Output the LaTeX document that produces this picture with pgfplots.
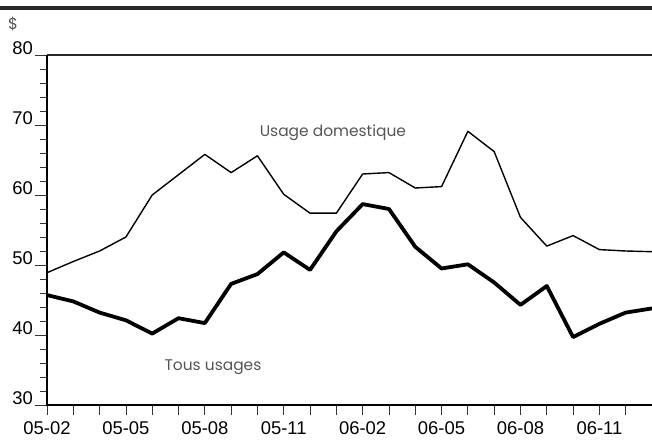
\documentclass[border=0pt]{standalone}
\usepackage{fontspec}
\usepackage{pgfplots}
\pgfplotsset{compat=1.18}
\setmainfont{Liberation Sans}
\newfontfamily\annot{Poppins}
\definecolor{annotgray}{RGB}{85,85,85}
\begin{document}
\begin{tikzpicture}
\path[use as bounding box] (0,0) rectangle (652bp,440bp);
\fill[black!85] (0,430bp) rectangle (652bp,434bp);
\node[anchor=center, text=annotgray, font=\annot\fontsize{16}{18}\selectfont] at (13bp,416bp) {\$};
\begin{axis}[
  at={(47bp,35bp)}, anchor=south west,
  scale only axis, width=605bp, height=350bp,
  xmin=0, xmax=23, ymin=30, ymax=80,
  clip=false,
  axis line style={draw=none},
  tick pos=left, tick align=outside,
  xtick={0,...,22},
  xticklabels={05-02,,,05-05,,,05-08,,,05-11,,,06-02,,,06-05,,,06-08,,,06-11,},
  ytick={30,40,...,80},
  minor y tick num=4,
  major tick length=12bp, minor tick length=7bp,
  xtick style={/pgfplots/major tick length=10bp, line width=0.8bp, black!80},
  ytick style={line width=0.8bp, black!80},
  minor y tick style={line width=0.8bp, black!80},
  tick label style={font=\fontsize{18.5}{20}\selectfont},
  /pgf/number format/assume math mode=true,
  yticklabel style={anchor=base east, inner sep=0pt, xshift=-2bp},
  xticklabel style={anchor=base, inner sep=0pt, yshift=-17bp},
]
\addplot[black, line width=1.4bp, line join=round] coordinates {
(0,48.9) (1,50.5) (2,52.0) (3,54.0) (4,60.0) (5,62.9) (6,65.8) (7,63.2)
(8,65.6) (9,60.1) (10,57.4) (11,57.4) (12,63.0) (13,63.2) (14,61.0) (15,61.2)
(16,69.1) (17,66.2) (18,56.8) (19,52.7) (20,54.2) (21,52.2) (22,52.0) (23,51.9)
};
\addplot[black, line width=3.8bp, line join=round] coordinates {
(0,45.7) (1,44.8) (2,43.2) (3,42.1) (4,40.2) (5,42.4) (6,41.7) (7,47.3)
(8,48.7) (9,51.8) (10,49.3) (11,54.8) (12,58.7) (13,58.0) (14,52.6) (15,49.5)
(16,50.1) (17,47.5) (18,44.3) (19,47.0) (20,39.7) (21,41.6) (22,43.2) (23,43.8)
};
\draw[black!85, line width=1.2bp] (rel axis cs:0,1) -- (rel axis cs:1,1);
\draw[black, line width=2.6bp] (rel axis cs:0,1) -- (rel axis cs:0,0) -- (rel axis cs:1,0);
\node[anchor=base, text=annotgray, font=\annot\fontsize{15.5}{17}\selectfont] at (axis cs:10.87,68.3) {Usage domestique};
\node[anchor=base, text=annotgray, font=\annot\fontsize{15.5}{17}\selectfont] at (axis cs:6.31,34.9) {Tous usages};
\end{axis}
\end{tikzpicture}
\end{document}
